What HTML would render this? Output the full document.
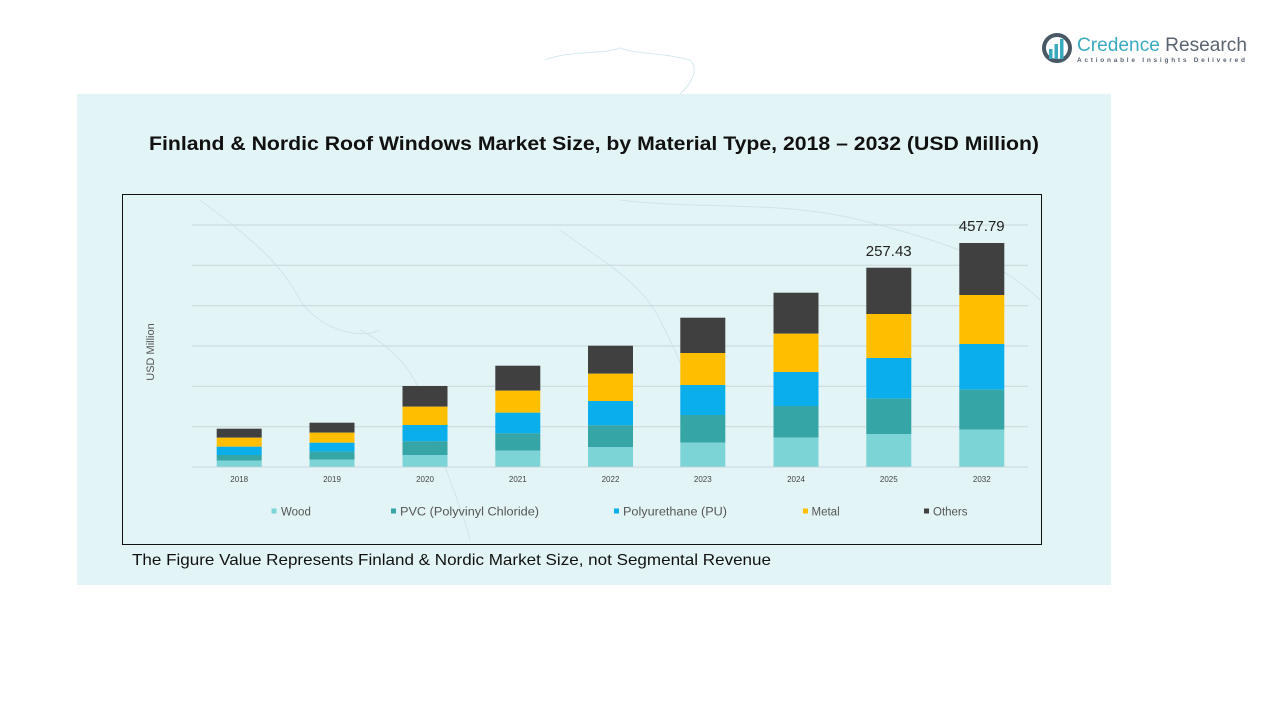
<!DOCTYPE html>
<html><head><meta charset="utf-8"><style>
html,body{margin:0;padding:0;background:#fff;width:1280px;height:720px;overflow:hidden}
svg{display:block}
text{font-family:"Liberation Sans",sans-serif}
</style></head><body>
<svg width="1280" height="720" viewBox="0 0 1280 720" xmlns="http://www.w3.org/2000/svg">
<rect x="0" y="0" width="1280" height="720" fill="#ffffff"/>
<!-- faint map outside top -->
<path d="M545 60 C570 50 600 55 620 48 C640 55 660 52 690 60 C700 70 690 85 680 94" fill="none" stroke="#d6e9ee" stroke-width="1"/>
<rect x="77" y="94" width="1034" height="491" fill="#e3f4f6"/>
<!-- faint map hints -->
<g fill="none" stroke="#cfe4ea" stroke-width="1">
<path d="M200 200 C240 230 280 260 300 300 C320 330 360 340 380 330"/>
<path d="M360 330 C400 350 420 380 430 420 C440 460 460 500 470 540"/>
<path d="M560 230 C600 260 640 280 660 320 C680 360 700 400 690 440"/>
<path d="M620 200 C700 210 780 200 860 220 C940 240 1000 260 1040 300"/>
</g>
<text x="149" y="150" font-size="19" font-weight="bold" fill="#111" textLength="890" lengthAdjust="spacingAndGlyphs">Finland &amp; Nordic Roof Windows Market Size, by Material Type, 2018 – 2032 (USD Million)</text>
<rect x="122.5" y="194.5" width="919" height="350" fill="none" stroke="#111" stroke-width="1"/>
<g stroke="#c9d6d9" stroke-width="1">
<line x1="192" y1="225" x2="1028" y2="225"/>
<line x1="192" y1="265.3" x2="1028" y2="265.3"/>
<line x1="192" y1="305.7" x2="1028" y2="305.7"/>
<line x1="192" y1="346" x2="1028" y2="346"/>
<line x1="192" y1="386.3" x2="1028" y2="386.3"/>
<line x1="192" y1="426.7" x2="1028" y2="426.7"/>
<line x1="192" y1="467" x2="1028" y2="467"/>
</g>
<text transform="translate(154,352) rotate(-90)" text-anchor="middle" font-size="11" fill="#555">USD Million</text>
<g id="bars">
<!-- 2018 -->
<rect x="216.7" y="428.7" width="45" height="9" fill="#404040"/>
<rect x="216.7" y="437.7" width="45" height="9" fill="#ffbf00"/>
<rect x="216.7" y="446.7" width="45" height="8.3" fill="#0aaeea"/>
<rect x="216.7" y="455" width="45" height="5.7" fill="#35a5a5"/>
<rect x="216.7" y="460.7" width="45" height="6" fill="#7dd4d6"/>
<!-- 2019 -->
<rect x="309.5" y="422.7" width="45" height="10" fill="#404040"/>
<rect x="309.5" y="432.7" width="45" height="10" fill="#ffbf00"/>
<rect x="309.5" y="442.7" width="45" height="9" fill="#0aaeea"/>
<rect x="309.5" y="451.7" width="45" height="8" fill="#35a5a5"/>
<rect x="309.5" y="459.7" width="45" height="7" fill="#7dd4d6"/>
<!-- 2020 -->
<rect x="402.5" y="386" width="45" height="20.7" fill="#404040"/>
<rect x="402.5" y="406.7" width="45" height="18.3" fill="#ffbf00"/>
<rect x="402.5" y="425" width="45" height="16.3" fill="#0aaeea"/>
<rect x="402.5" y="441.3" width="45" height="13.7" fill="#35a5a5"/>
<rect x="402.5" y="455" width="45" height="11.7" fill="#7dd4d6"/>
<!-- 2021 -->
<rect x="495.3" y="365.7" width="45" height="25" fill="#404040"/>
<rect x="495.3" y="390.7" width="45" height="22" fill="#ffbf00"/>
<rect x="495.3" y="412.7" width="45" height="20.6" fill="#0aaeea"/>
<rect x="495.3" y="433.3" width="45" height="17.4" fill="#35a5a5"/>
<rect x="495.3" y="450.7" width="45" height="16" fill="#7dd4d6"/>
<!-- 2022 -->
<rect x="588" y="345.7" width="45" height="28" fill="#404040"/>
<rect x="588" y="373.7" width="45" height="27.3" fill="#ffbf00"/>
<rect x="588" y="401" width="45" height="24.3" fill="#0aaeea"/>
<rect x="588" y="425.3" width="45" height="21.7" fill="#35a5a5"/>
<rect x="588" y="447" width="45" height="19.7" fill="#7dd4d6"/>
<!-- 2023 -->
<rect x="680.3" y="317.7" width="45" height="35.3" fill="#404040"/>
<rect x="680.3" y="353" width="45" height="32" fill="#ffbf00"/>
<rect x="680.3" y="385" width="45" height="30" fill="#0aaeea"/>
<rect x="680.3" y="415" width="45" height="27.7" fill="#35a5a5"/>
<rect x="680.3" y="442.7" width="45" height="24" fill="#7dd4d6"/>
<!-- 2024 -->
<rect x="773.5" y="292.7" width="45" height="41" fill="#404040"/>
<rect x="773.5" y="333.7" width="45" height="38.3" fill="#ffbf00"/>
<rect x="773.5" y="372" width="45" height="34" fill="#0aaeea"/>
<rect x="773.5" y="406" width="45" height="31.7" fill="#35a5a5"/>
<rect x="773.5" y="437.7" width="45" height="29" fill="#7dd4d6"/>
<!-- 2025 -->
<rect x="866.3" y="267.7" width="45" height="46.3" fill="#404040"/>
<rect x="866.3" y="314" width="45" height="44" fill="#ffbf00"/>
<rect x="866.3" y="358" width="45" height="40.7" fill="#0aaeea"/>
<rect x="866.3" y="398.7" width="45" height="35.3" fill="#35a5a5"/>
<rect x="866.3" y="434" width="45" height="32.7" fill="#7dd4d6"/>
<!-- 2032 -->
<rect x="959.3" y="243" width="45" height="52" fill="#404040"/>
<rect x="959.3" y="295" width="45" height="49" fill="#ffbf00"/>
<rect x="959.3" y="344" width="45" height="45.7" fill="#0aaeea"/>
<rect x="959.3" y="389.7" width="45" height="40" fill="#35a5a5"/>
<rect x="959.3" y="429.7" width="45" height="37" fill="#7dd4d6"/>
</g>
<text x="888.7" y="256" text-anchor="middle" font-size="15" fill="#222">257.43</text>
<text x="981.7" y="231" text-anchor="middle" font-size="15" fill="#222">457.79</text>
<g font-size="8" fill="#444" text-anchor="middle">
<text x="239.2" y="482">2018</text>
<text x="332" y="482">2019</text>
<text x="425" y="482">2020</text>
<text x="517.8" y="482">2021</text>
<text x="610.5" y="482">2022</text>
<text x="702.8" y="482">2023</text>
<text x="796" y="482">2024</text>
<text x="888.8" y="482">2025</text>
<text x="981.8" y="482">2032</text>
</g>
<g font-size="11.5" fill="#555">
<rect x="271.5" y="508.5" width="5" height="5" fill="#7dd4d6"/>
<text x="281" y="515.5">Wood</text>
<rect x="391" y="508.5" width="5" height="5" fill="#35a5a5"/>
<text x="400" y="515.5" textLength="139" lengthAdjust="spacingAndGlyphs">PVC (Polyvinyl Chloride)</text>
<rect x="614" y="508.5" width="5" height="5" fill="#0aaeea"/>
<text x="623" y="515.5" textLength="104" lengthAdjust="spacingAndGlyphs">Polyurethane (PU)</text>
<rect x="803" y="508.5" width="5" height="5" fill="#ffbf00"/>
<text x="811.5" y="515.5">Metal</text>
<rect x="924" y="508.5" width="5" height="5" fill="#404040"/>
<text x="933" y="515.5">Others</text>
</g>
<text x="132" y="565" font-size="16" fill="#111" textLength="639" lengthAdjust="spacingAndGlyphs">The Figure Value Represents Finland &amp; Nordic Market Size, not Segmental Revenue</text>
<!-- logo -->
<g>
<circle cx="1057" cy="48" r="13" fill="none" stroke="#4a5866" stroke-width="4"/>
<rect x="1049" y="49" width="3.5" height="10" fill="#3aaac0"/>
<rect x="1054.5" y="44" width="3.5" height="15" fill="#3aaac0"/>
<rect x="1060" y="39" width="3.5" height="20" fill="#3aaac0"/>
<text x="1077" y="51" font-size="19.5" textLength="170" lengthAdjust="spacingAndGlyphs"><tspan fill="#3aaac0">Credence</tspan><tspan fill="#5a6470"> Research</tspan></text>
<text x="1077" y="62" font-size="6.5" font-weight="bold" fill="#5a6470" textLength="168" lengthAdjust="spacing">Actionable Insights Delivered</text>
</g>
</svg>
</body></html>
